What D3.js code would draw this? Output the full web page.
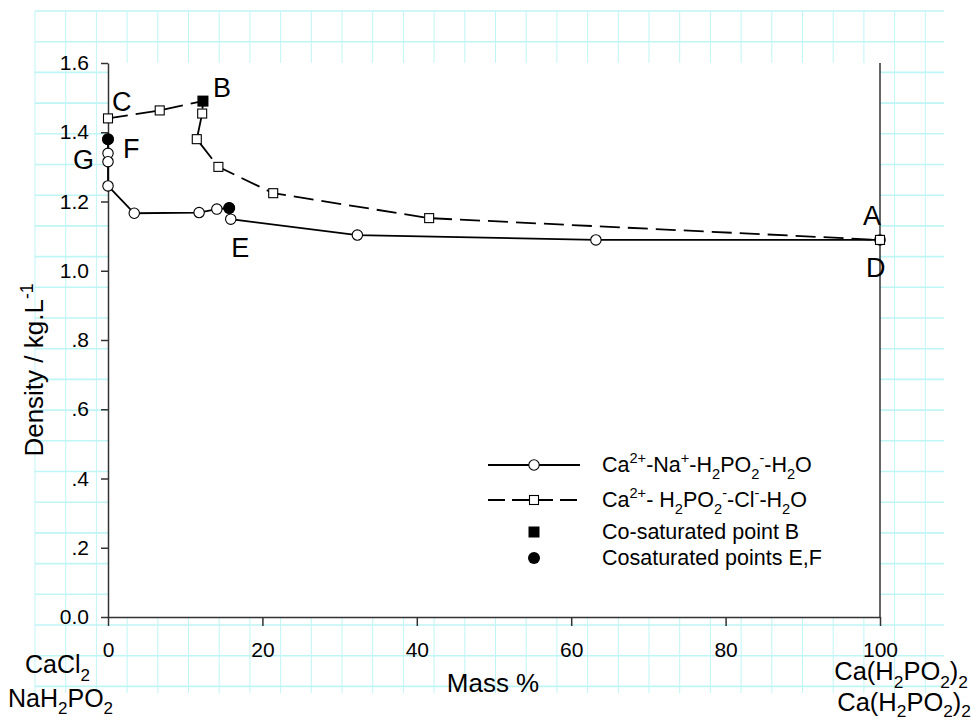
<!DOCTYPE html>
<html>
<head>
<meta charset="utf-8">
<script src="https://cdn.jsdelivr.net/npm/d3@7"></script>
<style>
  body { margin: 0; background: #fff; }
  text { font-family: "Liberation Sans", Arial, sans-serif; fill: #000; }
</style>
</head>
<body>
<script>
// Ca2+-Na+-H2PO2- -H2O system (circles, solid line)
const naMass = [0, 0, 0, 0, 3.4, 11.8, 14.1, 15.7, 15.9, 32.3, 63.2, 100];
const naDensity = [1.380, 1.339, 1.315, 1.245, 1.166, 1.168, 1.178, 1.181, 1.149, 1.103, 1.089, 1.089];

// Ca2+-H2PO2- -Cl- -H2O system (squares, dashed line)
const clMass = [0, 6.7, 12.3, 12.2, 11.5, 14.3, 21.4, 41.6, 100];
const clDensity = [1.440, 1.463, 1.490, 1.454, 1.380, 1.300, 1.224, 1.152, 1.089];

// co-saturated points
const pointB = [[12.3, 1.490]];
const pointsEF = [[15.7, 1.181], [0, 1.380]];

const xTicks = [0, 20, 40, 60, 80, 100];
const yTicks = [0, 0.2, 0.4, 0.6, 0.8, 1.0, 1.2, 1.4, 1.6];
const yTickLabels = ["0.0", ".2", ".4", ".6", ".8", "1.0", "1.2", "1.4", "1.6"];

const pointLabels = [
  ["A", 100, 1.089, -17, -15],
  ["B", 12.3, 1.490, 10, -4],
  ["C", 0, 1.440, 4, -7],
  ["D", 100, 1.089, -14, 37],
  ["E", 15.7, 1.181, 2, 49],
  ["F", 0, 1.380, 15, 19],
  ["G", 0, 1.315, -35, 7],
];

const W = 972, H = 723;
const x = d3.scaleLinear().domain([0, 100]).range([108, 880]);
const y = d3.scaleLinear().domain([0, 1.6]).range([617, 63]);

const svg = d3.select("body").append("svg")
  .attr("width", W)
  .attr("height", H);

// graph paper behind the plot
const grid = svg.append("g").attr("stroke", "#c0f5f5");
const step = 30.7;
d3.range(35, 944, step).forEach(gx => {
  grid.append("line").attr("x1", gx).attr("x2", gx).attr("y1", 11).attr("y2", 693)
    .attr("stroke-width", 1);
});
d3.range(11, 694, step).forEach(gy => {
  grid.append("line").attr("x1", 35).attr("x2", 944).attr("y1", gy).attr("y2", gy)
    .attr("stroke-width", 1.6);
});
svg.append("rect")
  .attr("x", x(0)).attr("y", y(1.6))
  .attr("width", x(100) - x(0)).attr("height", y(0) - y(1.6))
  .attr("fill", "#fff");

// write text with sub / superscripts, parts = [[str, "sub"|"sup"|""], ...]
function richText(sel, parts, size, subShift = 0.32) {
  let off = 0;
  parts.forEach(([s, m]) => {
    const target = m == "sub" ? size * subShift : m == "sup" ? -size * 0.4 : 0;
    sel.append("tspan")
      .attr("dy", target - off)
      .style("font-size", (m ? size * 0.68 : size) + "px")
      .text(s);
    off = target;
  });
  sel.style("font-size", size + "px");
}

// axes
const xAxis = d3.axisBottom(x).tickValues(xTicks).tickSize(9).tickSizeOuter(0).tickPadding(16);
const yAxis = d3.axisLeft(y).tickValues(yTicks).tickSize(7).tickSizeOuter(0).tickPadding(12)
  .tickFormat((d, i) => yTickLabels[i]);

const gx = svg.append("g").attr("transform", "translate(0," + y(0) + ")").call(xAxis);
const gy = svg.append("g").attr("transform", "translate(" + x(0) + ",0)").call(yAxis);
[gx, gy].forEach(g => {
  g.select(".domain").attr("stroke", "#333").attr("stroke-width", 1.5);
  g.selectAll(".tick line").attr("stroke", "#333").attr("stroke-width", 1.5);
  g.selectAll(".tick text")
    .attr("font-family", "Liberation Sans, Arial, sans-serif")
    .attr("font-size", 21).attr("fill", "#000");
});
// right edge line
svg.append("line")
  .attr("x1", x(100)).attr("x2", x(100)).attr("y1", y(1.6)).attr("y2", y(0))
  .attr("stroke", "#333").attr("stroke-width", 1.5);

// lines
const line = d3.line().x(d => x(d[0])).y(d => y(d[1]));
const naPts = naMass.map((m, i) => [m, naDensity[i]]);
const clPts = clMass.map((m, i) => [m, clDensity[i]]);

svg.append("path").datum(naPts).attr("d", line)
  .attr("fill", "none").attr("stroke", "#000").attr("stroke-width", 1.8);
svg.append("path").datum(clPts).attr("d", line)
  .attr("fill", "none").attr("stroke", "#000").attr("stroke-width", 1.8)
  .attr("stroke-dasharray", "20,8");

// markers
svg.append("g").selectAll("circle").data(naPts).join("circle")
  .attr("cx", d => x(d[0])).attr("cy", d => y(d[1])).attr("r", 5.2)
  .attr("fill", "#fff").attr("stroke", "#000").attr("stroke-width", 1.1);
svg.append("g").selectAll("rect").data(clPts).join("rect")
  .attr("x", d => x(d[0]) - 4.5).attr("y", d => y(d[1]) - 4.5)
  .attr("width", 9).attr("height", 9)
  .attr("fill", "#fff").attr("stroke", "#000").attr("stroke-width", 1.1);
svg.append("g").selectAll("rect").data(pointB).join("rect")
  .attr("x", d => x(d[0]) - 5.5).attr("y", d => y(d[1]) - 5.5)
  .attr("width", 11).attr("height", 11).attr("fill", "#000");
svg.append("g").selectAll("circle").data(pointsEF).join("circle")
  .attr("cx", d => x(d[0])).attr("cy", d => y(d[1])).attr("r", 6)
  .attr("fill", "#000");

// point letters
svg.append("g").selectAll("text").data(pointLabels).join("text")
  .attr("x", d => x(d[1]) + d[3]).attr("y", d => y(d[2]) + d[4])
  .attr("font-size", 27)
  .text(d => d[0]);

// legend
const lg = svg.append("g");
const lx0 = 488, lx1 = 580, lxm = 534, ltx = 602;
const rows = [465, 500, 532, 558];
lg.append("line").attr("x1", lx0).attr("x2", lx1).attr("y1", rows[0]).attr("y2", rows[0])
  .attr("stroke", "#000").attr("stroke-width", 1.8);
lg.append("circle").attr("cx", lxm).attr("cy", rows[0]).attr("r", 5.2)
  .attr("fill", "#fff").attr("stroke", "#000").attr("stroke-width", 1.1);
lg.append("line").attr("x1", lx0).attr("x2", lx1).attr("y1", rows[1]).attr("y2", rows[1])
  .attr("stroke", "#000").attr("stroke-width", 1.8).attr("stroke-dasharray", "17,7");
lg.append("rect").attr("x", lxm - 4.5).attr("y", rows[1] - 4.5).attr("width", 9).attr("height", 9)
  .attr("fill", "#fff").attr("stroke", "#000").attr("stroke-width", 1.1);
lg.append("rect").attr("x", lxm - 5.5).attr("y", rows[2] - 5.5).attr("width", 11).attr("height", 11)
  .attr("fill", "#000");
lg.append("circle").attr("cx", lxm).attr("cy", rows[3]).attr("r", 6).attr("fill", "#000");

richText(lg.append("text").attr("x", ltx).attr("y", rows[0] + 7),
  [["Ca", ""], ["2+", "sup"], ["-Na", ""], ["+", "sup"], ["-H", ""], ["2", "sub"], ["PO", ""],
   ["2", "sub"], ["-", "sup"], ["-H", ""], ["2", "sub"], ["O", ""]], 21.5);
richText(lg.append("text").attr("x", ltx).attr("y", rows[1] + 7),
  [["Ca", ""], ["2+", "sup"], ["- H", ""], ["2", "sub"], ["PO", ""], ["2", "sub"], ["-", "sup"],
   ["-Cl", ""], ["-", "sup"], ["-H", ""], ["2", "sub"], ["O", ""]], 21.5);
lg.append("text").attr("x", ltx).attr("y", rows[2] + 7).attr("font-size", 21.5)
  .text("Co-saturated point B");
lg.append("text").attr("x", ltx).attr("y", rows[3] + 7).attr("font-size", 21.5)
  .text("Cosaturated points E,F");

// axis titles
svg.append("text").attr("x", 493).attr("y", 692).attr("text-anchor", "middle")
  .attr("font-size", 26).text("Mass %");
richText(svg.append("text").attr("transform", "translate(43,370) rotate(-90)")
  .attr("text-anchor", "middle"),
  [["Density / kg.L", ""], ["-1", "sup"]], 26);

// corner compounds
richText(svg.append("text").attr("x", 25).attr("y", 673),
  [["CaCl", ""], ["2", "sub"]], 25);
richText(svg.append("text").attr("x", 8).attr("y", 707),
  [["NaH", ""], ["2", "sub"], ["PO", ""], ["2", "sub"]], 25, 0.28);
richText(svg.append("text").attr("x", 968).attr("y", 680).attr("text-anchor", "end"),
  [["Ca(H", ""], ["2", "sub"], ["PO", ""], ["2", "sub"], [")", ""], ["2", "sub"]], 25.5);
richText(svg.append("text").attr("x", 971).attr("y", 711).attr("text-anchor", "end"),
  [["Ca(H", ""], ["2", "sub"], ["PO", ""], ["2", "sub"], [")", ""], ["2", "sub"]], 25.5, 0.24);
</script>
</body>
</html>
